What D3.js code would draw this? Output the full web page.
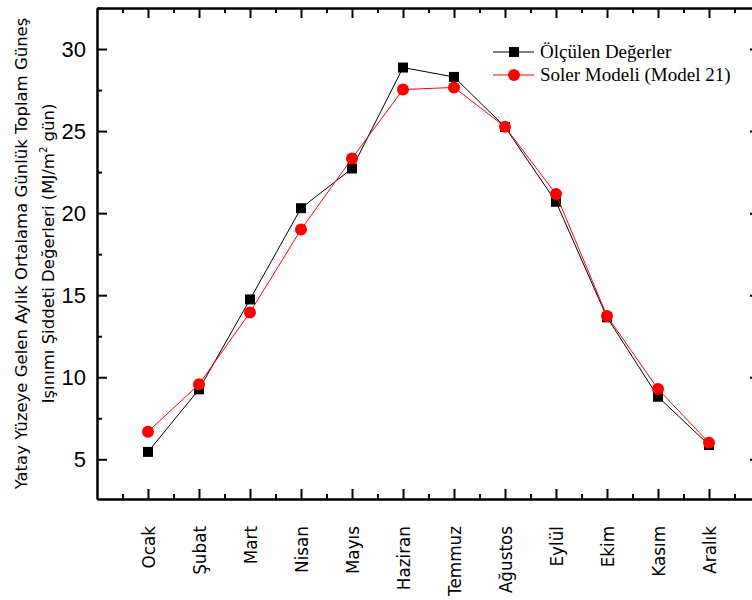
<!DOCTYPE html>
<html>
  <head>
    <meta charset="utf-8">
    <script src="https://d3js.org/d3.v7.min.js"></script>
    <style>
      body { margin: 0; background: #fff; }
    </style>
  </head>
  <body>
    <div id="graph"></div>
    <script>

var w = 752;
var h = 600;

// data
var months = ["Ocak", "Şubat", "Mart", "Nisan", "Mayıs", "Haziran", "Temmuz", "Ağustos", "Eylül", "Ekim", "Kasım", "Aralık"];
var measured = [5.45, 9.26, 14.74, 20.3, 22.72, 28.87, 28.3, 25.25, 20.69, 13.65, 8.81, 5.87];
var model = [6.68, 9.57, 13.95, 19.0, 23.33, 27.53, 27.66, 25.26, 21.16, 13.73, 9.28, 6.01];
var yTicks = [5, 10, 15, 20, 25, 30];
var yMinor = [7.5, 12.5, 17.5, 22.5, 27.5, 32.5];
var seriesNames = ["Ölçülen Değerler", "Soler Modeli (Model 21)"];

// plot frame (right edge falls just outside the window)
var pLeft = 97, pRight = 760, pTop = 8, pBottom = 499;

var svg = d3.select("#graph")
  .append("svg")
  .attr("width", w)
  .attr("height", h);

var xScale = d3.scaleLinear()
  .domain([-1, 12])
  .range([pLeft, pRight]);

var yScale = d3.scaleLinear()
  .domain([2.58, 32.5])
  .range([pBottom, pTop]);

var xMinor = d3.range(-0.5, 12, 1);

function styleAxis(g) {
  g.selectAll("path, line").attr("stroke", "#000").attr("stroke-width", 2);
}

// major ticks with labels
svg.append("g")
  .attr("transform", "translate(" + pLeft + ",0)")
  .call(d3.axisLeft(yScale).tickValues(yTicks).tickSizeInner(-10).tickSizeOuter(0).tickPadding(11))
  .call(styleAxis)
  .selectAll("text")
  .attr("font-family", "'Liberation Sans', Arial, sans-serif")
  .attr("font-size", "22px")
  .attr("fill", "#000");

svg.append("g")
  .attr("transform", "translate(0," + pBottom + ")")
  .call(d3.axisBottom(xScale).tickValues(d3.range(12)).tickSizeInner(-10).tickSizeOuter(0)
    .tickFormat(function(d) { return months[d]; }))
  .call(styleAxis)
  .selectAll("text")
  .attr("transform", "rotate(-90)")
  .attr("x", -27)
  .attr("y", 0)
  .attr("dy", "0.36em")
  .style("text-anchor", "end")
  .attr("font-family", "'DejaVu Sans', Verdana, sans-serif")
  .attr("font-size", "16.8px")
  .attr("fill", "#000");

svg.append("g")
  .attr("transform", "translate(0," + pTop + ")")
  .call(d3.axisTop(xScale).tickValues(d3.range(12)).tickSizeInner(-10).tickSizeOuter(0).tickFormat(""))
  .call(styleAxis);

svg.append("g")
  .attr("transform", "translate(" + pRight + ",0)")
  .call(d3.axisRight(yScale).tickValues(yTicks).tickSizeInner(-10).tickSizeOuter(0).tickFormat(""))
  .call(styleAxis);

// minor ticks
svg.append("g")
  .attr("transform", "translate(" + pLeft + ",0)")
  .call(d3.axisLeft(yScale).tickValues(yMinor).tickSizeInner(-5).tickSizeOuter(0).tickFormat(""))
  .call(styleAxis);
svg.append("g")
  .attr("transform", "translate(" + pRight + ",0)")
  .call(d3.axisRight(yScale).tickValues(yMinor).tickSizeInner(-5).tickSizeOuter(0).tickFormat(""))
  .call(styleAxis);
svg.append("g")
  .attr("transform", "translate(0," + pBottom + ")")
  .call(d3.axisBottom(xScale).tickValues(xMinor).tickSizeInner(-5).tickSizeOuter(0).tickFormat(""))
  .call(styleAxis);
svg.append("g")
  .attr("transform", "translate(0," + pTop + ")")
  .call(d3.axisTop(xScale).tickValues(xMinor).tickSizeInner(-5).tickSizeOuter(0).tickFormat(""))
  .call(styleAxis);

// y title, two lines
var title = svg.append("text")
  .attr("transform", "translate(27," + ((pTop + pBottom) / 2) + ") rotate(-90)")
  .attr("text-anchor", "middle")
  .attr("font-family", "'DejaVu Sans', Verdana, sans-serif")
  .attr("font-size", "16.5px")
  .attr("fill", "#000");
title.append("tspan")
  .attr("x", 0)
  .attr("y", 0)
  .text("Yatay Yüzeye Gelen Aylık Ortalama Günlük Toplam Güneş");
var line2 = title.append("tspan")
  .attr("x", 0)
  .attr("y", 27);
line2.append("tspan").text("Işınımı Şiddeti Değerleri (MJ/m");
line2.append("tspan").attr("font-size", "10px").attr("dy", "-7").text("2");
line2.append("tspan").attr("dy", "7").text(" gün)");

var line = d3.line()
  .x(function(d, i) { return xScale(i); })
  .y(function(d) { return yScale(d); });

// measured series
svg.append("path")
  .datum(measured)
  .attr("d", line)
  .attr("fill", "none")
  .attr("stroke", "#000")
  .attr("stroke-width", 1);

svg.selectAll("rect.measured")
  .data(measured)
  .enter()
  .append("rect")
  .attr("class", "measured")
  .attr("x", function(d, i) { return xScale(i) - 5; })
  .attr("y", function(d) { return yScale(d) - 5; })
  .attr("width", 10)
  .attr("height", 10)
  .attr("fill", "#000");

// model series
svg.append("path")
  .datum(model)
  .attr("d", line)
  .attr("fill", "none")
  .attr("stroke", "#ff0000")
  .attr("stroke-width", 1);

svg.selectAll("circle.model")
  .data(model)
  .enter()
  .append("circle")
  .attr("class", "model")
  .attr("cx", function(d, i) { return xScale(i); })
  .attr("cy", function(d) { return yScale(d); })
  .attr("r", 6)
  .attr("fill", "#ff0000");

// legend
var legend = svg.append("g");
var rows = legend.selectAll("g")
  .data(seriesNames)
  .enter()
  .append("g")
  .attr("transform", function(d, i) { return "translate(493," + (52 + i * 23) + ")"; });

rows.append("line")
  .attr("x1", 0)
  .attr("x2", 41)
  .attr("y1", 0)
  .attr("y2", 0)
  .attr("stroke", function(d, i) { return i == 0 ? "#000" : "#ff0000"; })
  .attr("stroke-width", 1);

rows.each(function(d, i) {
  var g = d3.select(this);
  if (i == 0) {
    g.append("rect").attr("x", 16).attr("y", -5).attr("width", 10).attr("height", 10).attr("fill", "#000");
  } else {
    g.append("circle").attr("cx", 21).attr("cy", 0).attr("r", 6).attr("fill", "#ff0000");
  }
});

rows.append("text")
  .attr("x", 47)
  .attr("y", 0)
  .attr("dy", "0.33em")
  .attr("font-family", "'Liberation Serif', 'Times New Roman', serif")
  .attr("font-size", "19px")
  .attr("fill", "#000")
  .text(function(d) { return d; });

    </script>
  </body>
</html>
